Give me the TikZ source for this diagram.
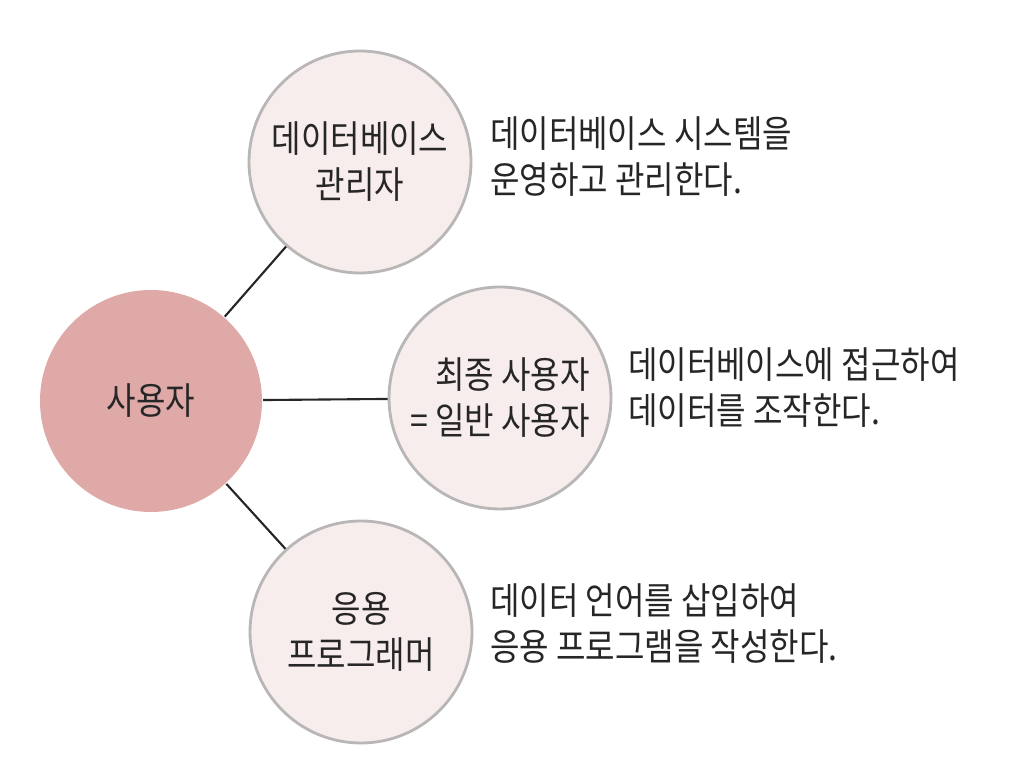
\documentclass[tikz,border=0pt]{standalone}
\usepackage{fontspec}
\usepackage{xcolor}
\usepackage{tikz}
\newfontfamily\kr[FakeStretch=0.86]{Noto Sans CJK KR}
\definecolor{hubpink}{HTML}{DFA9A8}
\definecolor{rolepink}{HTML}{F8EDED}
\definecolor{rimgray}{HTML}{B8B6B6}
\definecolor{inkgray}{HTML}{262626}

\begin{document}
\begin{tikzpicture}[line width=0.6pt,
  font=\kr\fontsize{10.6}{13.1}\selectfont, text=inkgray,
  hub/.style={circle, fill=hubpink, minimum size=2.22cm, inner sep=0pt},
  role/.style={circle, draw=rimgray, fill=rolepink, line width=0.8pt,
    minimum size=2.22cm, inner sep=0pt, align=center},
  note/.style={anchor=west, align=left, inner sep=0pt}]
  \useasboundingbox (0,0) rectangle (10.29,7.63);
  % circles
  \node[hub] (user) at (1.51,3.62) {사용자};
  \node[role] (dba) at (3.60,6.01) {데이터베이스\\관리자};
  \node[role, align=right] (enduser) at (5.00,3.65) {최종 사용자\\= 일반 사용자};
  \node[role] (prog) at (3.61,1.31) {응용\\프로그래머};
  % connectors
  \draw[inkgray] (user) -- (dba);
  \draw[inkgray] (user) -- (enduser);
  \draw[inkgray] (user) -- (prog);
  % descriptions
  \node[note] (dbanote) at (4.89,6.06) {데이터베이스 시스템을\\운영하고 관리한다.};
  \node[note] (endnote) at (6.27,3.75) {데이터베이스에 접근하여\\데이터를 조작한다.};
  \node[note] (prognote) at (4.89,1.39) {데이터 언어를 삽입하여\\응용 프로그램을 작성한다.};
\end{tikzpicture}
\end{document}
